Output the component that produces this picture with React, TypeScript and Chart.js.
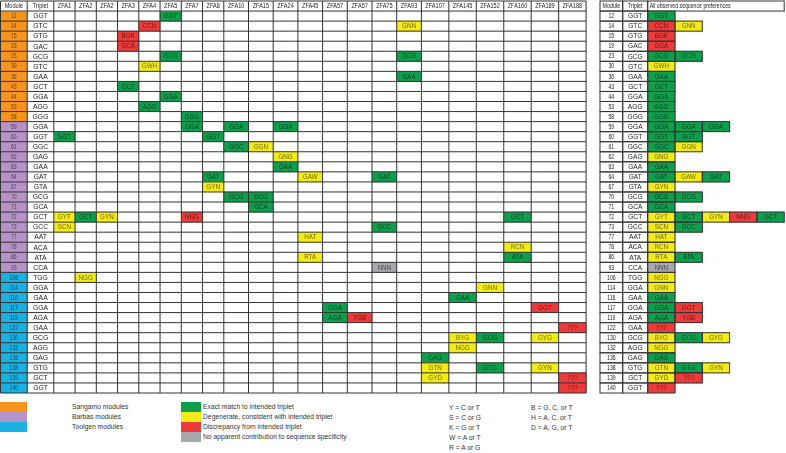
import React, { useEffect, useRef } from "react";
import { Chart, registerables } from "chart.js";
Chart.register(...registerables);

// ---------------- data ----------------
type Cls = "exact" | "degenerate" | "discrepancy" | "none";

const zfaColumns = [
  "ZFA1", "ZFA2", "ZFA2", "ZFA3", "ZFA4", "ZFA5", "ZFA7", "ZFA8",
  "ZFA10", "ZFA15", "ZFA24", "ZFA45", "ZFA57", "ZFA57", "ZFA75", "ZFA93",
  "ZFA107", "ZFA145", "ZFA152", "ZFA160", "ZFA189", "ZFA188",
];

const sangamoModules = [12, 14, 15, 19, 23, 30, 36, 43, 44, 53, 58];
const barbasModules = [59, 60, 61, 62, 63, 64, 67, 70, 71, 72, 73, 77, 78, 86, 93];
const toolgenModules = [106, 114, 116, 117, 119, 122, 130, 132, 136, 138, 139, 140];

const triplets = [
  "GGT", "GTC", "GTG", "GAC", "GCG", "GTC", "GAA", "GCT", "GGA", "AGG", "GGG",
  "GGA", "GGT", "GGC", "GAG", "GAA", "GAT", "GTA", "GCG", "GCA", "GCT", "GCC", "AAT", "ACA", "ATA", "CCA",
  "TGG", "GGA", "GAA", "GGA", "AGA", "GAA", "GCG", "AGG", "GAG", "GTG", "GCT", "GGT",
];

// [module, ZFA column index, observed preference, class]
const observedCells: [number, number, string, Cls][] = [
  [12, 5, "GGT", "exact"],
  [14, 4, "CCN", "discrepancy"], [14, 15, "GNN", "degenerate"],
  [15, 3, "BGK", "discrepancy"],
  [19, 3, "GCA", "discrepancy"],
  [23, 5, "GCG", "exact"], [23, 15, "GCG", "exact"],
  [30, 4, "GWH", "degenerate"],
  [36, 15, "GAA", "exact"],
  [43, 3, "GCT", "exact"],
  [44, 5, "GGA", "exact"],
  [53, 4, "AGG", "exact"],
  [58, 6, "GGG", "exact"],
  [59, 6, "GGA", "exact"], [59, 8, "GGA", "exact"], [59, 10, "GGA", "exact"],
  [60, 0, "GGT", "exact"], [60, 7, "GGT", "exact"],
  [61, 8, "GGC", "exact"], [61, 9, "GGN", "degenerate"],
  [62, 10, "GNG", "degenerate"],
  [63, 10, "GAA", "exact"],
  [64, 7, "GAT", "exact"], [64, 11, "GAW", "degenerate"], [64, 14, "GAT", "exact"],
  [67, 7, "GYN", "degenerate"],
  [70, 8, "GCG", "exact"], [70, 9, "GCG", "exact"],
  [71, 9, "GCA", "exact"],
  [72, 0, "GYT", "degenerate"], [72, 1, "GCT", "exact"], [72, 2, "GYN", "degenerate"],
  [72, 6, "NNG", "discrepancy"], [72, 19, "GCT", "exact"],
  [73, 0, "SCN", "degenerate"], [73, 14, "GCC", "exact"],
  [77, 11, "HAT", "degenerate"],
  [78, 19, "RCN", "degenerate"],
  [86, 11, "RTA", "degenerate"], [86, 19, "ATA", "exact"],
  [93, 14, "NNN", "none"],
  [106, 1, "NGG", "degenerate"],
  [114, 18, "GNN", "degenerate"],
  [116, 17, "GAA", "exact"],
  [117, 12, "GGA", "exact"], [117, 20, "GGT", "discrepancy"],
  [119, 12, "AGA", "exact"], [119, 13, "YGB", "discrepancy"],
  [122, 21, "???", "discrepancy"],
  [130, 17, "BYG", "degenerate"], [130, 18, "GCG", "exact"], [130, 20, "GYG", "degenerate"],
  [132, 17, "NGG", "degenerate"],
  [136, 16, "GAG", "exact"],
  [138, 16, "GTN", "degenerate"], [138, 18, "GTG", "exact"], [138, 20, "GYN", "degenerate"],
  [139, 16, "GYD", "degenerate"], [139, 21, "???", "discrepancy"],
  [140, 21, "???", "discrepancy"],
];

const sourceLegend = ["Sangamo modules", "Barbas modules", "Toolgen modules"];
const classLegend = [
  "Exact match to intended triplet",
  "Degenerate, consistent with intended triplet",
  "Discrepancy from intended triplet",
  "No apparent contribution to sequence specificity",
];
const codeLegendA = ["Y = C or T", "S = C or G", "K = G or T", "W = A or T", "R = A or G"];
const codeLegendB = ["B = G, C, or T", "H = A, C, or T", "D = A, G, or T"];

// ---------------- styles / layout ----------------
const SOURCE_COLORS = ["#F7941E", "#B592C8", "#1BB0E2"];
const CLASS_COLORS: Record<Cls, string> = {
  exact: "#0E9F4D",
  degenerate: "#F3EB19",
  discrepancy: "#EC3B3B",
  none: "#A6A8AB",
};
const CLASS_ORDER: Cls[] = ["exact", "degenerate", "discrepancy", "none"];
const LINE = "#333";
const FONT = "'Liberation Sans', Arial, sans-serif";

const LEFT_X0 = 0.5;
const LEFT_FIXED_W = [26.7, 26.6];
const ZFA_W: Record<number, number> = { 4: 21.25, 5: 24.7, 6: 27.45 };
const RIGHT_X0 = 600;
const RIGHT_FIXED_W = [22.7, 25];
const PREF_W = 27.3;
const PREF_SLOTS = 5;

const allModules = [...sangamoModules, ...barbasModules, ...toolgenModules];
const sourceIndex = (i: number) =>
  i < sangamoModules.length ? 0 : i < sangamoModules.length + barbasModules.length ? 1 : 2;
const rowLabels = ["hdr", ...allModules.map(String)];

const cumulative = (start: number, widths: number[]) => {
  const out = [start];
  widths.forEach((w) => out.push(out[out.length - 1] + w));
  return out;
};
const leftWidths = [...LEFT_FIXED_W, ...zfaColumns.map((c) => ZFA_W[c.length])];
const leftBounds = cumulative(LEFT_X0, leftWidths);
const rightBounds = cumulative(RIGHT_X0, [...RIGHT_FIXED_W, ...Array(PREF_SLOTS).fill(PREF_W)]);

// right table: all observed preferences per module, in column order
const rightPrefs: { m: number; slot: number; code: string; cls: Cls }[] = [];
allModules.forEach((m) => {
  observedCells
    .filter((c) => c[0] === m)
    .sort((a, b) => a[1] - b[1])
    .forEach((c, slot) => rightPrefs.push({ m, slot, code: c[2], cls: c[3] }));
});

const cell = (x0: number, x1: number, row: string) => ({ x: [x0, x1], y: row });
const TEXT_DARK = "rgba(0,0,0,0.58)";

const datasets: any[] = [
  {
    label: "leftHeader",
    data: leftWidths.map((_, i) => cell(leftBounds[i], leftBounds[i + 1], "hdr")),
    backgroundColor: "#fff",
    texts: ["Module", "Triplet", ...zfaColumns],
    textSize: 6.8, textNarrow: true, textColor: "#222",
  },
  {
    label: "leftModules",
    data: allModules.map((m) => cell(leftBounds[0], leftBounds[1], String(m))),
    backgroundColor: allModules.map((_, i) => SOURCE_COLORS[sourceIndex(i)]),
    texts: allModules.map(String),
    textSize: 6.3, textNarrow: true, textColor: TEXT_DARK,
  },
  {
    label: "leftTriplets",
    data: allModules.map((m) => cell(leftBounds[1], leftBounds[2], String(m))),
    backgroundColor: "#fff",
    texts: triplets,
    textSize: 6.8, textNarrow: false, textColor: "#222",
  },
  {
    label: "leftCells",
    data: observedCells.map(([m, c]) => cell(leftBounds[c + 2], leftBounds[c + 3], String(m))),
    backgroundColor: observedCells.map((c) => CLASS_COLORS[c[3]]),
    texts: observedCells.map((c) => c[2]),
    textSize: 6.3, textNarrow: false, textColor: TEXT_DARK,
  },
  {
    label: "rightHeader",
    data: [cell(rightBounds[0], rightBounds[1], "hdr"), cell(rightBounds[1], rightBounds[2], "hdr")],
    backgroundColor: "#fff",
    texts: ["Module", "Triplet"],
    textSize: 6.6, textNarrow: true, textColor: "#222", outline: true,
  },
  {
    label: "rightHeaderWide",
    data: [cell(rightBounds[2], rightBounds[2 + PREF_SLOTS], "hdr")],
    backgroundColor: "#fff",
    texts: ["All observed sequence preferences"],
    textSize: 6.3, textNarrow: true, textColor: "#222", outline: true, textAlign: "left",
  },
  {
    label: "rightModules",
    data: allModules.map((m) => cell(rightBounds[0], rightBounds[1], String(m))),
    backgroundColor: "#fff",
    texts: allModules.map(String),
    textSize: 6.3, textNarrow: true, textColor: "#222", outline: true,
  },
  {
    label: "rightTriplets",
    data: allModules.map((m) => cell(rightBounds[1], rightBounds[2], String(m))),
    backgroundColor: "#fff",
    texts: triplets,
    textSize: 6.6, textNarrow: false, textColor: "#222", outline: true,
  },
  {
    label: "rightPrefs",
    data: rightPrefs.map((p) => cell(rightBounds[2 + p.slot], rightBounds[3 + p.slot], String(p.m))),
    backgroundColor: rightPrefs.map((p) => CLASS_COLORS[p.cls]),
    texts: rightPrefs.map((p) => p.code),
    textSize: 6.3, textNarrow: false, textColor: TEXT_DARK, outline: true,
  },
];

function drawText(ctx: CanvasRenderingContext2D, text: string, x: number, y: number,
  size: number, narrow: boolean, color: string, align: CanvasTextAlign) {
  ctx.save();
  ctx.font = `${size}px ${FONT}`;
  ctx.fillStyle = color;
  ctx.textBaseline = "middle";
  ctx.textAlign = align;
  ctx.translate(x, y + 0.4);
  if (narrow) ctx.scale(0.82, 1);
  ctx.fillText(text, 0, 0);
  ctx.restore();
}

const tablePlugin = {
  id: "tablePlugin",
  afterDatasetsDraw(chart: any) {
    const ctx: CanvasRenderingContext2D = chart.ctx;
    const xs = chart.scales.x;
    const ys = chart.scales.y;
    const n = rowLabels.length;
    const band = Math.abs(ys.getPixelForValue(1) - ys.getPixelForValue(0));
    const yEdges: number[] = [];
    for (let i = 0; i < n; i++) yEdges.push(ys.getPixelForValue(i) - band / 2);
    yEdges.push(ys.getPixelForValue(n - 1) + band / 2);

    // left table grid
    ctx.save();
    ctx.strokeStyle = LINE;
    ctx.lineWidth = 1;
    ctx.beginPath();
    const xl = xs.getPixelForValue(leftBounds[0]);
    const xr = xs.getPixelForValue(leftBounds[leftBounds.length - 1]);
    yEdges.forEach((y) => { ctx.moveTo(xl, y); ctx.lineTo(xr, y); });
    leftBounds.forEach((b) => {
      const x = xs.getPixelForValue(b);
      ctx.moveTo(x, yEdges[0]);
      ctx.lineTo(x, yEdges[yEdges.length - 1]);
    });
    ctx.stroke();

    // outlined cells (right table)
    chart.data.datasets.forEach((ds: any, di: number) => {
      if (!ds.outline) return;
      const meta = chart.getDatasetMeta(di);
      meta.data.forEach((el: any) => {
        const p = el.getProps(["x", "y", "base", "height"], true);
        const x0 = Math.min(p.x, p.base);
        ctx.strokeRect(x0, p.y - p.height / 2, Math.abs(p.x - p.base), p.height);
      });
    });
    ctx.restore();

    // texts
    chart.data.datasets.forEach((ds: any, di: number) => {
      const meta = chart.getDatasetMeta(di);
      meta.data.forEach((el: any, i: number) => {
        const p = el.getProps(["x", "y", "base"], true);
        const t = ds.texts[i];
        if (!t) return;
        const align: CanvasTextAlign = ds.textAlign || "center";
        const x = align === "left" ? Math.min(p.x, p.base) + 2 : (p.x + p.base) / 2;
        drawText(ctx, t, x, p.y, ds.textSize, ds.textNarrow, ds.textColor, align);
      });
    });
  },
};

// legend layout
const LEG_ROW0 = 402;
const LEG_ROW_H = 10;

const labelStyle = (left: number, top: number): React.CSSProperties => ({
  position: "absolute",
  left,
  top,
  height: LEG_ROW_H,
  lineHeight: `${LEG_ROW_H}px`,
  fontFamily: FONT,
  fontSize: "7.5px",
  color: "#333",
  whiteSpace: "nowrap",
  transform: "scaleX(0.9)",
  transformOrigin: "0 50%",
});

export default function App() {
  const ref = useRef<HTMLCanvasElement>(null);
  useEffect(() => {
    document.body.style.margin = "0";
    const chart = new Chart(ref.current as HTMLCanvasElement, {
      type: "bar",
      data: { labels: rowLabels, datasets },
      options: {
        indexAxis: "y",
        animation: false,
        responsive: false,
        maintainAspectRatio: false,
        layout: { padding: { top: 1, bottom: 7, left: 0, right: 0 } },
        scales: {
          x: { type: "linear", min: 0, max: 786, display: false },
          y: { type: "category", display: false, offset: true },
        },
        plugins: { legend: { display: false }, tooltip: { enabled: false } },
        datasets: {
          bar: { grouped: false, barPercentage: 1, categoryPercentage: 1, borderWidth: 0 },
        },
      } as any,
      plugins: [tablePlugin],
    });
    return () => chart.destroy();
  }, []);

  return (
    <div style={{ position: "relative", width: 786, height: 453, overflow: "hidden", background: "#fff" }}>
      <canvas ref={ref} width={786} height={400} style={{ position: "absolute", left: 0, top: 0 }} />
      {sourceLegend.map((t, i) => (
        <React.Fragment key={t}>
          <div style={{ position: "absolute", left: 0, top: LEG_ROW0 + i * LEG_ROW_H, width: 27, height: LEG_ROW_H, background: SOURCE_COLORS[i] }} />
          <div style={labelStyle(72, LEG_ROW0 + i * LEG_ROW_H)}>{t}</div>
        </React.Fragment>
      ))}
      {classLegend.map((t, i) => (
        <React.Fragment key={t}>
          <div style={{ position: "absolute", left: 181, top: LEG_ROW0 + i * LEG_ROW_H, width: 20, height: LEG_ROW_H, background: CLASS_COLORS[CLASS_ORDER[i]] }} />
          <div style={labelStyle(203, LEG_ROW0 + i * LEG_ROW_H)}>{t}</div>
        </React.Fragment>
      ))}
      {codeLegendA.map((t, i) => (
        <div key={t} style={labelStyle(449, LEG_ROW0 + 1 + i * LEG_ROW_H)}>{t}</div>
      ))}
      {codeLegendB.map((t, i) => (
        <div key={t} style={labelStyle(531, LEG_ROW0 + 1 + i * LEG_ROW_H)}>{t}</div>
      ))}
    </div>
  );
}
